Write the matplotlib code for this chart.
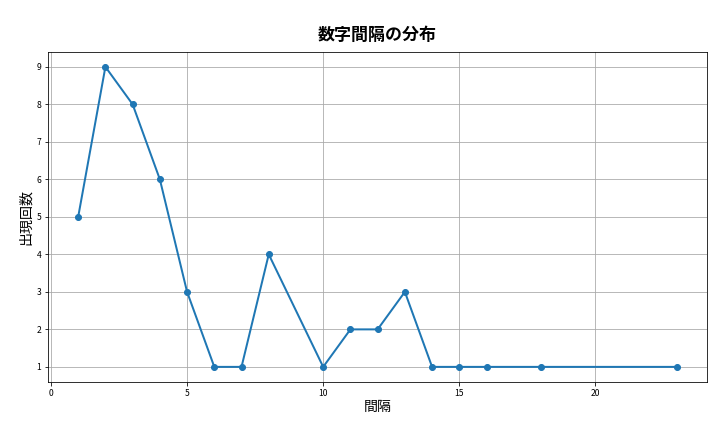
import matplotlib
matplotlib.use("Agg")
import matplotlib.pyplot as plt

plt.rcParams['font.family'] = ['Noto Sans CJK JP', 'DejaVu Sans']

gaps = [1, 2, 3, 4, 5, 6, 7, 8, 10, 11, 12, 13, 14, 15, 16, 18, 23]
counts = [5, 9, 8, 6, 3, 1, 1, 4, 1, 2, 2, 3, 1, 1, 1, 1, 1]

fig = plt.figure(figsize=(10, 6), dpi=72)
ax = fig.add_axes([0.067, 0.116, 0.915, 0.764])
ax.plot(gaps, counts, marker='o', color='#1f77b4', linewidth=2, markersize=6)
ax.set_title('数字間隔の分布', fontsize=17, fontweight='bold', pad=12)
ax.set_xlabel('間隔', fontsize=14, labelpad=2)
ax.set_ylabel('出現回数', fontsize=14, labelpad=4)
ax.set_xticks([0, 5, 10, 15, 20])
ax.set_yticks(range(1, 10))
ax.tick_params(labelsize=8.5)
ax.grid(True, color='#a8a8a8', linewidth=0.8)
fig.savefig('out.png', dpi=72)
